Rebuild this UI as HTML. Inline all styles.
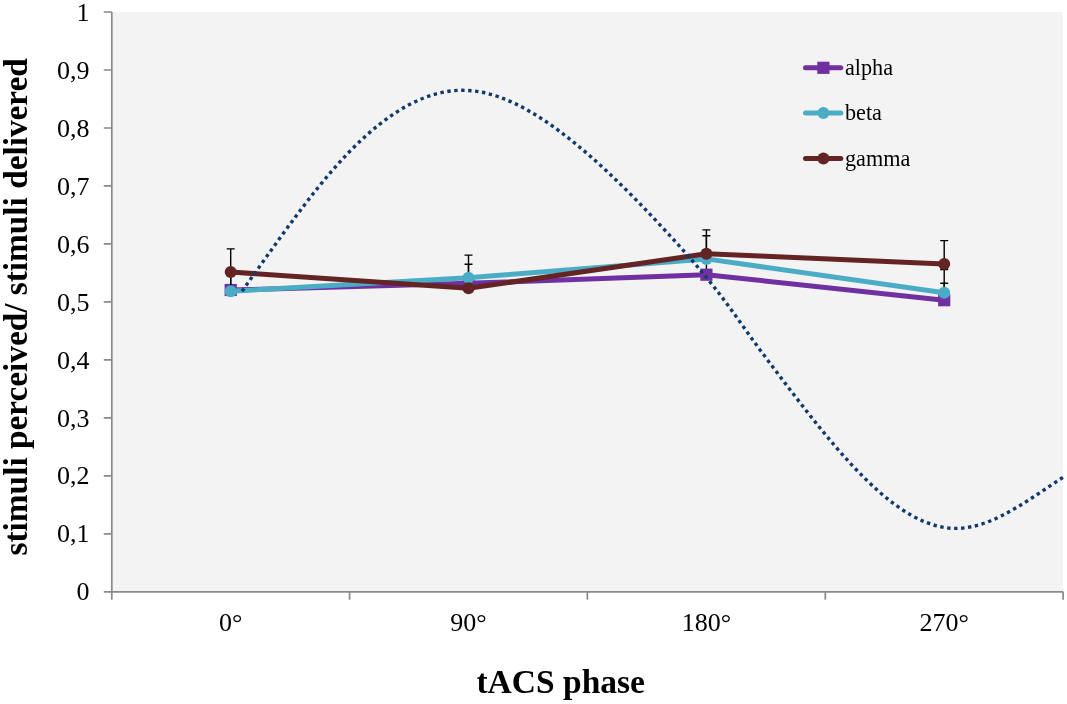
<!DOCTYPE html>
<html><head><meta charset="utf-8"><title>tACS phase</title>
<style>
html,body{margin:0;padding:0;background:#fff;}
body{width:1067px;height:704px;overflow:hidden;}
svg{display:block;filter:blur(0.45px);}
text{font-family:"Liberation Serif","Times New Roman",serif;fill:#000;}
.t{font-size:26px;}
.l{font-size:22.2px;}
.b{font-size:33.5px;font-weight:bold;}
.by{font-size:33.3px;font-weight:bold;}
</style></head><body>
<svg width="1067" height="704" viewBox="0 0 1067 704">
<rect width="1067" height="704" fill="#fff"/>
<rect x="111.8" y="12.2" width="951.0" height="579.5999999999999" fill="#f3f3f3"/>
<path d="M111.8,12.0 V599.8 M103.8,591.8 H1063.1 M103.8,12.0 H111.8 M103.8,70.0 H111.8 M103.8,128.0 H111.8 M103.8,185.9 H111.8 M103.8,243.9 H111.8 M103.8,301.9 H111.8 M103.8,359.9 H111.8 M103.8,417.9 H111.8 M103.8,475.8 H111.8 M103.8,533.8 H111.8 M349.6,591.8 V599.8 M587.4,591.8 V599.8 M825.3,591.8 V599.8 M1063.1,591.8 V599.8" fill="none" stroke="#8a8a8a" stroke-width="1.7" stroke-linejoin="round"/>
<text x="89.6" y="20.6" text-anchor="end" class="t">1</text>
<text x="89.6" y="78.6" text-anchor="end" class="t">0,9</text>
<text x="89.6" y="136.6" text-anchor="end" class="t">0,8</text>
<text x="89.6" y="194.5" text-anchor="end" class="t">0,7</text>
<text x="89.6" y="252.5" text-anchor="end" class="t">0,6</text>
<text x="89.6" y="310.5" text-anchor="end" class="t">0,5</text>
<text x="89.6" y="368.5" text-anchor="end" class="t">0,4</text>
<text x="89.6" y="426.5" text-anchor="end" class="t">0,3</text>
<text x="89.6" y="484.4" text-anchor="end" class="t">0,2</text>
<text x="89.6" y="542.4" text-anchor="end" class="t">0,1</text>
<text x="89.6" y="600.4" text-anchor="end" class="t">0</text>
<text x="230.7" y="631" text-anchor="middle" class="t">0°</text>
<text x="468.5" y="631" text-anchor="middle" class="t">90°</text>
<text x="706.4" y="631" text-anchor="middle" class="t">180°</text>
<text x="944.2" y="631" text-anchor="middle" class="t">270°</text>
<text x="560.7" y="692.6" text-anchor="middle" class="b">tACS phase</text>
<text transform="translate(27.2,306.8) rotate(-90)" text-anchor="middle" class="by">stimuli perceived/ stimuli delivered</text>
<g stroke="#000" stroke-width="1.4" fill="none"><path d="M230.7,290.0 V272.0 M226.7,272.0 H234.7" /><path d="M468.5,283.3 V264.2 M464.5,264.2 H472.5" /><path d="M706.4,274.7 V229.9 M702.4,229.9 H710.4" /><path d="M944.2,300.2 V269.5 M940.2,269.5 H948.2" /></g>
<polyline points="230.7,290.0 468.5,283.3 706.4,274.7 944.2,300.2" fill="none" stroke="#7030a0" stroke-width="5" stroke-linejoin="round" stroke-linecap="round"/>
<rect x="224.6" y="283.9" width="12.2" height="12.2" fill="#7030a0"/>
<rect x="462.4" y="277.2" width="12.2" height="12.2" fill="#7030a0"/>
<rect x="700.3" y="268.6" width="12.2" height="12.2" fill="#7030a0"/>
<rect x="938.1" y="294.1" width="12.2" height="12.2" fill="#7030a0"/>
<g stroke="#000" stroke-width="1.4" fill="none"><path d="M230.7,291.3 V274.0 M226.7,274.0 H234.7" /><path d="M468.5,277.8 V255.1 M464.5,255.1 H472.5" /><path d="M706.4,258.9 V250.0 M702.4,250.0 H710.4" /><path d="M944.2,292.8 V283.2 M940.2,283.2 H948.2" /></g>
<polyline points="230.7,291.3 468.5,277.8 706.4,258.9 944.2,292.8" fill="none" stroke="#4bacc6" stroke-width="5" stroke-linejoin="round" stroke-linecap="round"/>
<circle cx="230.7" cy="291.3" r="6" fill="#4bacc6"/>
<circle cx="468.5" cy="277.8" r="6" fill="#4bacc6"/>
<circle cx="706.4" cy="258.9" r="6" fill="#4bacc6"/>
<circle cx="944.2" cy="292.8" r="6" fill="#4bacc6"/>
<g stroke="#000" stroke-width="1.4" fill="none"><path d="M230.7,272.0 V248.9 M226.7,248.9 H234.7" /><path d="M468.5,288.3 V288.3 M464.5,288.3 H472.5" /><path d="M706.4,253.8 V235.7 M702.4,235.7 H710.4" /><path d="M944.2,264.0 V240.6 M940.2,240.6 H948.2" /></g>
<polyline points="230.7,272.0 468.5,288.3 706.4,253.8 944.2,264.0" fill="none" stroke="#632423" stroke-width="5" stroke-linejoin="round" stroke-linecap="round"/>
<circle cx="230.7" cy="272.0" r="6" fill="#632423"/>
<circle cx="468.5" cy="288.3" r="6" fill="#632423"/>
<circle cx="706.4" cy="253.8" r="6" fill="#632423"/>
<circle cx="944.2" cy="264.0" r="6" fill="#632423"/>
<path d="M242.00,291.24 C252.14,277.05 262.27,262.67 272.41,248.50 C282.54,234.34 292.68,220.40 302.81,207.09 C312.95,193.78 323.09,181.09 333.22,169.45 C343.36,157.80 353.49,147.23 363.63,137.91 C373.77,128.58 383.90,120.48 394.04,113.75 C404.17,107.01 414.31,101.62 424.44,97.72 C434.58,93.82 444.72,91.41 454.85,90.60 C464.99,89.79 475.12,90.65 485.26,92.96 C495.40,95.27 505.53,99.01 515.67,103.88 C525.80,108.76 535.94,114.78 546.07,121.65 C556.21,128.52 566.35,136.23 576.48,144.54 C586.62,152.86 596.75,161.81 606.89,171.27 C617.02,180.73 627.16,190.71 637.30,201.07 C647.43,211.44 657.57,222.19 667.70,233.22 C677.84,244.24 687.98,255.51 698.11,267.48 C708.25,279.46 718.38,292.14 728.52,306.00 C738.65,319.85 748.79,334.63 758.93,348.39 C769.06,362.14 779.20,375.47 789.33,388.74 C799.47,402.01 809.60,415.09 819.74,427.61 C829.88,440.14 840.01,452.10 850.15,463.13 C860.28,474.15 870.42,484.24 880.56,493.02 C890.69,501.80 900.83,509.26 910.96,515.04 C921.10,520.83 931.23,524.92 941.37,526.96 C951.51,528.99 961.64,528.82 971.78,526.68 C981.91,524.53 992.05,520.54 1002.19,515.44 C1012.32,510.33 1022.46,504.12 1032.59,497.52 C1042.73,490.92 1052.86,483.94 1063.00,477.32" fill="none" stroke="#12396c" stroke-width="3.4" stroke-dasharray="3.4 3.577"/>
<path d="M805.5,67.8 H840.8" stroke="#7030a0" stroke-width="5" stroke-linecap="round"/>
<rect x="817.3" y="61.7" width="12.2" height="12.2" fill="#7030a0"/>
<text x="845" y="75.2" class="l">alpha</text>
<path d="M805.5,113.0 H840.8" stroke="#4bacc6" stroke-width="5" stroke-linecap="round"/>
<circle cx="823.4" cy="113.0" r="6" fill="#4bacc6"/>
<text x="845" y="120.4" class="l">beta</text>
<path d="M805.5,158.4 H840.8" stroke="#632423" stroke-width="5" stroke-linecap="round"/>
<circle cx="823.4" cy="158.4" r="6" fill="#632423"/>
<text x="845" y="165.8" class="l">gamma</text>
</svg>
</body></html>
